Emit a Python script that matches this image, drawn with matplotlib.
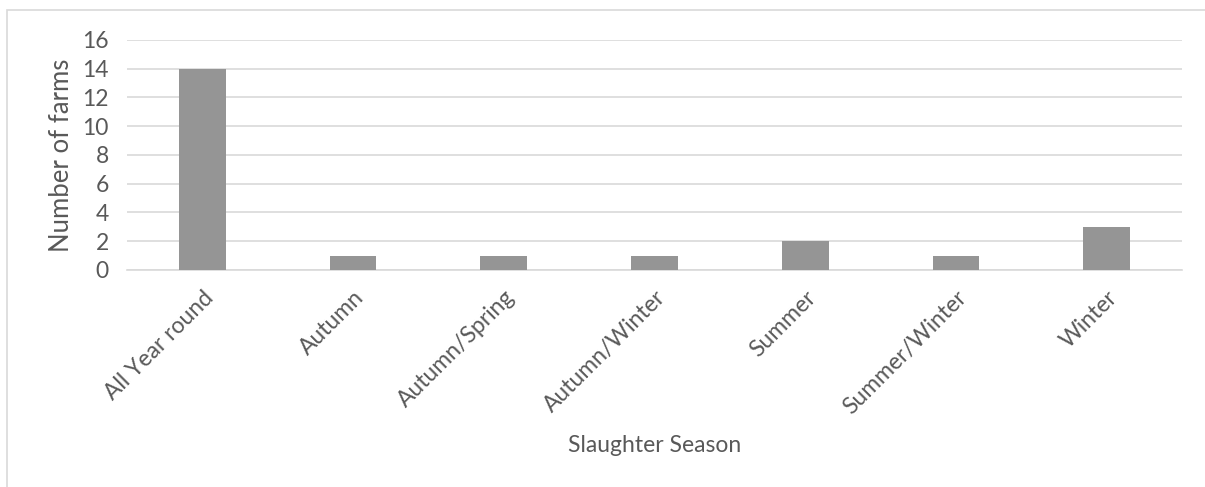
import matplotlib.pyplot as plt
from matplotlib.patches import Rectangle

seasons = ["All Year round", "Autumn", "Autumn/Spring", "Autumn/Winter",
           "Summer", "Summer/Winter", "Winter"]
farms = [14, 1, 1, 1, 2, 1, 3]

plt.rcParams['font.family'] = ['Lato', 'DejaVu Sans']
txt = "#595959"

fig = plt.figure(figsize=(12.05, 4.87), dpi=100)
ax = fig.add_axes([0.1054, 0.4456, 0.8755, 0.4723])

# outer chart border (cropped at right and bottom in the original)
fig.patches.append(Rectangle((7 / 1205, -0.1), 1.2, 1 - 10 / 487 + 0.1,
                             transform=fig.transFigure, fill=False,
                             edgecolor="#d9d9d9", linewidth=1.2))

ax.bar(range(len(seasons)), farms, width=0.31, color="#959595", zorder=3)
ax.set_xlim(-0.5, len(seasons) - 0.5)
ax.set_ylim(0, 16)
ax.set_yticks(range(0, 17, 2))
ax.grid(axis="y", color="#d9d9d9", linewidth=1.2, zorder=0)
for s in ["top", "right", "left"]:
    ax.spines[s].set_visible(False)
ax.spines["bottom"].set_color("#d9d9d9")
ax.spines["bottom"].set_linewidth(1.2)
ax.tick_params(length=0, colors=txt, labelsize=16.5)
ax.tick_params(axis="y", pad=13)
ax.set_xticks(range(len(seasons)))
ax.set_xticklabels(seasons, rotation=45, ha="right", rotation_mode="anchor")
ax.tick_params(axis="x", pad=12)

ax.set_ylabel("Number of farms", fontsize=18.5, color=txt, labelpad=6)
ax.set_xlabel("Slaughter Season", fontsize=16.5, color=txt, labelpad=12)

fig.savefig("out.png", dpi=100)
